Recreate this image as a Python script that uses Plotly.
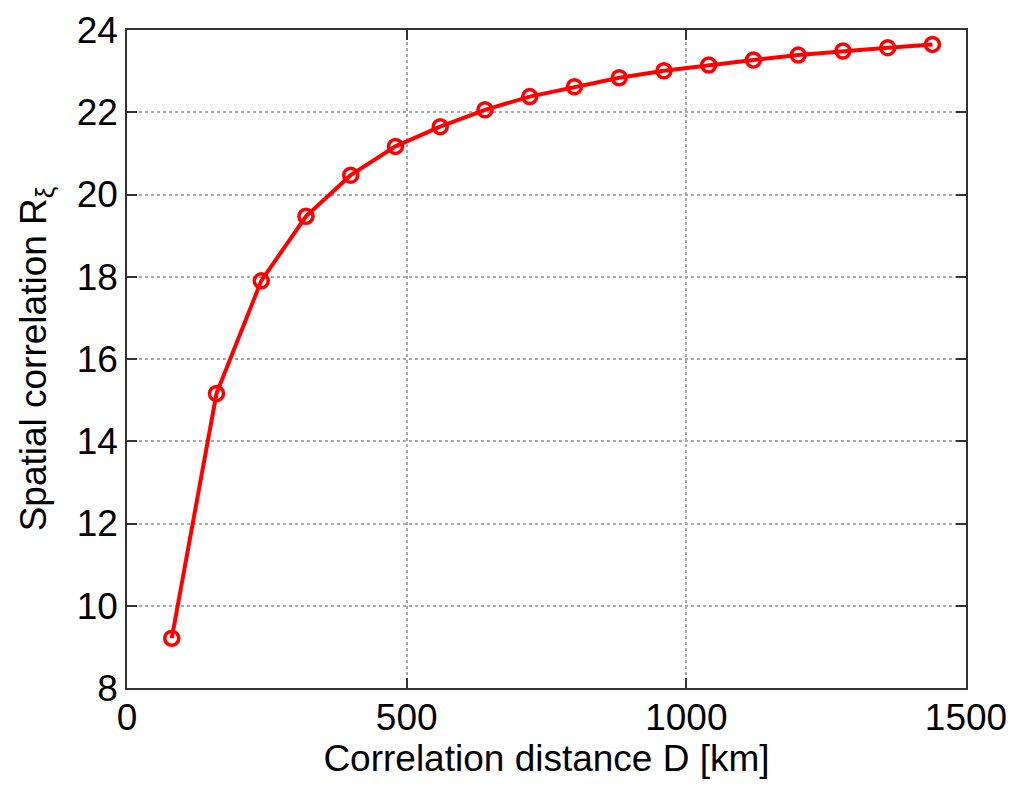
import plotly.graph_objects as go

distance_km = [80, 160, 240, 320, 400, 480, 560, 640, 720, 800, 880, 960, 1040, 1120, 1200, 1280, 1360, 1440]
spatial_corr = [9.21, 15.16, 17.90, 19.47, 20.47, 21.17, 21.65, 22.06, 22.38, 22.62, 22.84, 23.01, 23.15, 23.27, 23.39, 23.49, 23.57, 23.65]

x_ticks = [0, 500, 1000, 1500]
y_ticks = [8, 10, 12, 14, 16, 18, 20, 22, 24]

fig = go.Figure()
fig.add_trace(go.Scatter(
    x=distance_km, y=spatial_corr, mode="lines+markers",
    line=dict(color="#ff0000", width=4),
    marker=dict(symbol="circle-open", size=14, color="#ff0000", line=dict(width=3.5, color="#ff0000")),
    showlegend=False,
))

font_family = "Liberation Sans, Arial, Helvetica, sans-serif"
axis_common = dict(
    showline=True, linecolor="#333333", linewidth=1.5, mirror="ticks",
    ticks="inside", ticklen=10, tickcolor="#333333", tickwidth=1.5,
    showgrid=True, gridcolor="#aaaaaa", griddash="dot", gridwidth=1.5,
    zeroline=False, automargin=False,
    tickfont=dict(family=font_family, size=37, color="black"),
)
fig.update_xaxes(range=[0, 1500], tickvals=x_ticks, ticklabelstandoff=-4,
                 title=dict(text="Correlation distance D [km]", font=dict(family=font_family, size=37, color="black"), standoff=0),
                 **axis_common)
fig.update_yaxes(range=[8, 24], tickvals=y_ticks,
                 title=dict(text="Spatial correlation R<sub>ξ</sub>", font=dict(family=font_family, size=37, color="black"), standoff=19),
                 **axis_common)
fig.update_layout(
    width=1024, height=792,
    margin=dict(l=119, r=66, t=22, b=112),
    plot_bgcolor="white", paper_bgcolor="white",
    font=dict(family=font_family, color="black"),
)
fig.write_html("out.html")
